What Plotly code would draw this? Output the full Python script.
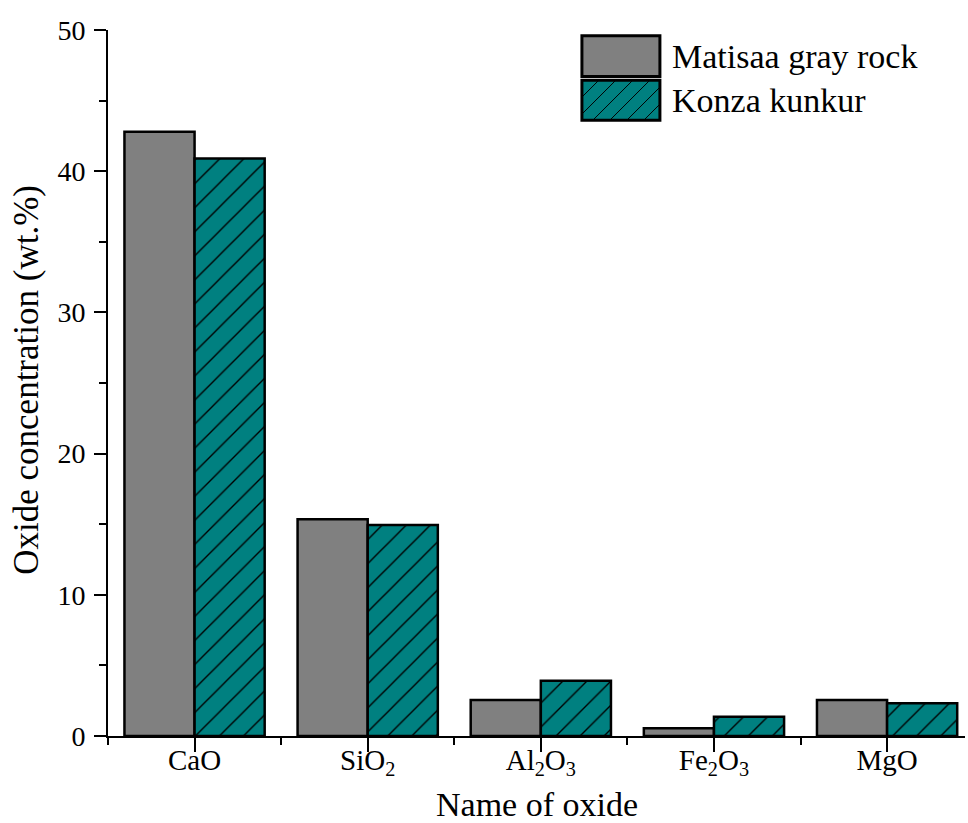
import plotly.graph_objects as go

categories = ["CaO", "SiO<sub>2</sub>", "Al<sub>2</sub>O<sub>3</sub>", "Fe<sub>2</sub>O<sub>3</sub>", "MgO"]
matisaa = [42.8, 15.35, 2.55, 0.55, 2.55]
konza = [40.9, 14.95, 3.92, 1.37, 2.32]
series_names = ["Matisaa gray rock", "Konza kunkur"]
y_ticks = [0, 10, 20, 30, 40, 50]
x_title = "Name of oxide"
y_title = "Oxide concentration (wt.%)"

FONT = "Liberation Serif"
GRAY = "#808080"
TEAL = "#008080"

fig = go.Figure()
fig.add_trace(go.Bar(x=list(range(len(categories))), y=matisaa, name=series_names[0],
                     marker=dict(color=GRAY, line=dict(color="black", width=2.5)),
                     showlegend=False))
fig.add_trace(go.Bar(x=list(range(len(categories))), y=konza, name=series_names[1],
                     marker=dict(color=TEAL, line=dict(color="black", width=2.5),
                                 pattern=dict(shape="/", fgcolor="black", bgcolor=TEAL,
                                              size=17, solidity=0.08, fillmode="replace")),
                     showlegend=False))

fig.update_layout(
    width=968, height=823,
    margin=dict(l=108, r=3, t=30, b=87),
    plot_bgcolor="white", paper_bgcolor="white",
    barmode="group", bargap=0.19, bargroupgap=0,
    font=dict(family=FONT, color="black", size=28),
)
fig.update_xaxes(
    automargin=False,
    range=[-0.5, 4.45], tickmode="array", tickvals=list(range(len(categories))),
    ticktext=categories, ticks="outside", ticklen=14, tickwidth=2, tickcolor="black",
    ticklabelstandoff=-17,
    showline=True, linecolor="black", linewidth=2, showgrid=False, zeroline=False,
    tickfont=dict(size=29, family=FONT, color="black"),
    minor=dict(tickmode="array", tickvals=[-0.5, 0.5, 1.5, 2.5, 3.5], ticks="outside",
               ticklen=7, tickwidth=2, tickcolor="black"),
)
fig.update_yaxes(
    automargin=False,
    range=[0, 50], tickmode="array", tickvals=y_ticks, ticks="outside", ticklen=12,
    tickwidth=2, tickcolor="black", showline=True, linecolor="black", linewidth=2,
    ticklabelstandoff=3,
    showgrid=False, zeroline=False, tickfont=dict(size=28, family=FONT, color="black"),
    minor=dict(dtick=5, ticks="outside", ticklen=7, tickwidth=2, tickcolor="black"),
)

# axis titles as annotations for precise placement
fig.add_annotation(xref="paper", yref="paper", x=0.5, y=-0.097, text=x_title,
                   showarrow=False, xanchor="center", yanchor="middle",
                   font=dict(size=34, family=FONT, color="black"))
fig.add_annotation(xref="paper", yref="paper", x=-0.095, y=0.504, text=y_title,
                   textangle=-90, showarrow=False, xanchor="center", yanchor="middle",
                   font=dict(size=35, family=FONT, color="black"))

# custom legend (box shapes + text)
x0, x1 = 0.553, 0.644
boxes = [(0.934, 0.992), (0.872, 0.929)]
colors = [GRAY, TEAL]
for (yb, yt), c, name in zip(boxes, colors, series_names):
    fig.add_shape(type="rect", xref="paper", yref="paper", x0=x0, x1=x1, y0=yb, y1=yt,
                  fillcolor=c, line=dict(color="black", width=3))
    fig.add_annotation(xref="paper", yref="paper", x=x1 + 0.012, y=(yb + yt) / 2,
                       text=name, showarrow=False, xanchor="left", yanchor="middle",
                       font=dict(size=34, family=FONT, color="black"))
# hatch lines in the teal legend box
yb, yt = boxes[1]
h = yt - yb
px_h = h * 706
step = 17 / 857
xs = x0 - px_h / 857
while xs < x1:
    lx0, ly0 = xs, yb
    lx1, ly1 = xs + px_h / 857, yt
    if lx0 < x0:
        ly0 = yb + (x0 - lx0) * 857 / 706
        lx0 = x0
    if lx1 > x1:
        ly1 = yt - (lx1 - x1) * 857 / 706
        lx1 = x1
    if lx1 > lx0:
        fig.add_shape(type="line", xref="paper", yref="paper", x0=lx0, y0=ly0, x1=lx1, y1=ly1,
                      line=dict(color="black", width=1))
    xs += step

fig.write_html("out.html")
